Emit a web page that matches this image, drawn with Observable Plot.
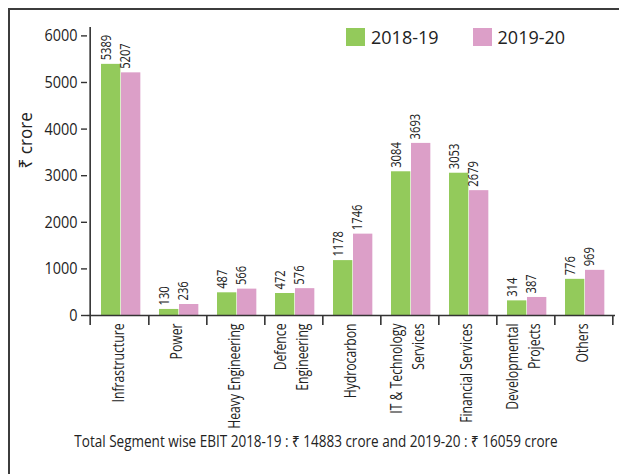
<!DOCTYPE html>
<html>
<head>
<meta charset="utf-8">
<script src="https://cdn.jsdelivr.net/npm/d3@7"></script>
<script src="https://cdn.jsdelivr.net/npm/@observablehq/plot@0.6"></script>
<style>
  html, body { margin: 0; padding: 0; background: #fff; }
  #wrap { position: relative; width: 619px; height: 474px; overflow: hidden; }
  #frame { position: absolute; left: 8px; top: 8px; width: 700px; height: 600px;
           border-top: 2px solid #3c3c3c; border-left: 2px solid #3c3c3c; }
  #chart { position: absolute; left: 0; top: 0; }
  #legend { position: absolute; left: 346px; top: 25px; display: flex; align-items: center;
            font-family: "Open Sans", "Noto Sans", sans-serif; font-size: 18px; color: #222; }
  #legend .item { display: flex; align-items: center; margin-right: 34px; }
  #legend .sw { width: 19px; height: 18px; margin-right: 6px; }
  #caption { position: absolute; left: 0; top: 430px; width: 619px; text-align: center; }
  #caption span { display: inline-block; transform-origin: 50% 50%;
             font-family: "Open Sans", "Noto Sans", sans-serif;
             font-size: 16px; color: #222; white-space: nowrap; }
</style>
</head>
<body>
<div id="wrap">
  <div id="frame"></div>
  <div id="chart"></div>
  <div id="legend"></div>
  <div id="caption"><span></span></div>
</div>
<script>
const categories = ["Infrastructure", "Power", "Heavy Engineering", "Defence\nEngineering", "Hydrocarbon",
  "IT & Technology\nServices", "Financial Services", "Developmental\nProjects", "Others"];
const series = ["2018-19", "2019-20"];
const values2018 = [5389, 130, 487, 472, 1178, 3084, 3053, 314, 776];
const values2019 = [5207, 236, 566, 576, 1746, 3693, 2679, 387, 969];
const yTicks = [0, 1000, 2000, 3000, 4000, 5000, 6000];
const yLabel = "₹ crore";
const captionText = "Total Segment wise EBIT 2018-19 : ₹ 14883 crore and 2019-20 : ₹ 16059 crore";

const GREEN = "#93ca5b";
const PINK = "#dc9fc8";
const AXIS = "#333";
const FONT = '"Open Sans", "Noto Sans", sans-serif';

const W = 619, H = 430, ML = 87, MR = 4, MT = 27, MB = 115;
const step = (W - ML - MR) / categories.length;

const rows = categories.map((c, i) => ({category: c, a: values2018[i], b: values2019[i]}));
const isMulti = d => d.includes("\n");

const chart = Plot.plot({
  width: W, height: H,
  marginLeft: ML, marginRight: MR, marginTop: MT, marginBottom: MB,
  x: {type: "band", domain: categories, padding: 0, axis: null},
  y: {domain: [0, 6180], axis: null},
  style: {fontFamily: FONT, color: "#222", background: "transparent", overflow: "visible"},
  marks: [
    Plot.barY(rows, {x: "category", y: "a", fill: GREEN, insetLeft: 11, insetRight: step - 31}),
    Plot.barY(rows, {x: "category", y: "b", fill: PINK, insetLeft: 31, insetRight: step - 51}),
    Plot.text(rows, {x: "category", y: "a", text: d => String(d.a), rotate: -90, textAnchor: "start",
      dx: -12.5, dy: -4, fontSize: 14, fill: "#222"}),
    Plot.text(rows, {x: "category", y: "b", text: d => String(d.b), rotate: -90, textAnchor: "start",
      dx: 6.5, dy: -4, fontSize: 14, fill: "#222"}),
    Plot.ruleY([0], {stroke: AXIS, strokeWidth: 1.6}),
    Plot.ruleX([categories[0]], {dx: -step / 2, insetBottom: -10, stroke: AXIS, strokeWidth: 1.6}),
    Plot.ruleX(categories, {dx: step / 2, y1: 0, y2: 0, insetBottom: -10, stroke: AXIS, strokeWidth: 1.6}),
    Plot.axisY(yTicks, {tickSize: 6, tickPadding: 4, fontSize: 17, label: null, stroke: AXIS,
      strokeWidth: 1.4, fill: "#222", tickFormat: d => String(d)}),
    Plot.text(categories, {x: d => d, filter: d => !isMulti(d), frameAnchor: "bottom", rotate: -90,
      textAnchor: "end", dx: 4, dy: 8, fontSize: 16.5, fill: "#222"}),
    Plot.text(categories, {x: d => d, filter: isMulti, frameAnchor: "bottom", rotate: -90,
      textAnchor: "end", dx: 14, dy: 8, fontSize: 16.5, lineHeight: 1.3, fill: "#222"}),
    Plot.text([yLabel], {frameAnchor: "left", dx: -61, dy: -3, rotate: -90, fontSize: 18, fill: "#222"})
  ]
});
document.getElementById("chart").appendChild(chart);

// condensed look: squeeze glyphs along the reading direction (by font size of the mark)
const squeeze = {"14": 0.8, "16.5": 0.74, "17": 0.85, "18": 0.95};
chart.querySelectorAll("text").forEach(t => {
  const holder = t.closest("[font-size]");
  const fs = holder ? String(parseFloat(holder.getAttribute("font-size"))) : null;
  const sx = squeeze[fs];
  if (!sx) return;
  const tr = t.getAttribute("transform") || "";
  t.setAttribute("transform", `${tr} scale(${sx},1)`);
});

const legend = document.getElementById("legend");
[GREEN, PINK].forEach((col, i) => {
  const item = document.createElement("div");
  item.className = "item";
  const sw = document.createElement("div");
  sw.className = "sw";
  sw.style.background = col;
  const t = document.createElement("span");
  t.textContent = series[i];
  item.appendChild(sw); item.appendChild(t);
  legend.appendChild(item);
});
const cap = document.querySelector("#caption span");
cap.textContent = captionText;
cap.style.transform = "translateX(7px) scaleX(0.845)";
</script>
</body>
</html>
